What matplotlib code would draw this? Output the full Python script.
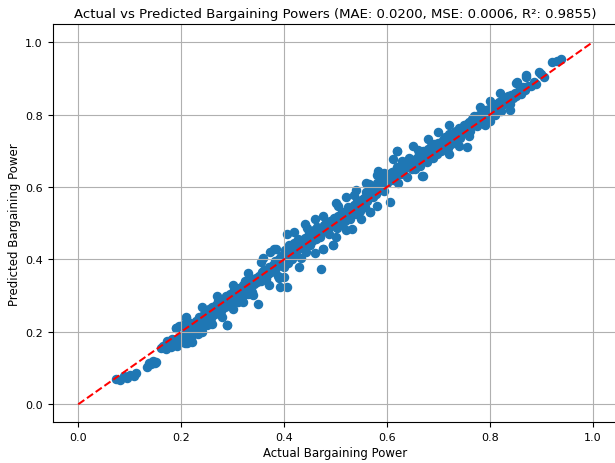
import numpy as np
import matplotlib
matplotlib.use("Agg")
import matplotlib.pyplot as plt

actual_low = [0.074, 0.082, 0.089, 0.095, 0.101, 0.108, 0.112, 0.133, 0.138, 0.142, 0.146, 0.150, 0.152]
pred_low = [0.069, 0.066, 0.077, 0.072, 0.080, 0.078, 0.086, 0.104, 0.115, 0.110, 0.120, 0.113, 0.118]

actual_b = [0.160, 0.165, 0.170, 0.172, 0.176, 0.180, 0.183, 0.186, 0.190, 0.192, 0.195, 0.198,
            0.200, 0.203, 0.205, 0.208, 0.210, 0.212, 0.214, 0.216, 0.218, 0.220, 0.222, 0.225,
            0.228, 0.230, 0.232, 0.235, 0.238, 0.240, 0.243, 0.245, 0.248, 0.250]
pred_b = [0.155, 0.160, 0.152, 0.175, 0.165, 0.158, 0.180, 0.170, 0.210, 0.162, 0.215, 0.185,
          0.175, 0.220, 0.195, 0.168, 0.240, 0.180, 0.205, 0.190, 0.225, 0.200, 0.172, 0.215,
          0.230, 0.205, 0.195, 0.240, 0.220, 0.212, 0.235, 0.250, 0.228, 0.218]

actual_c = [0.252, 0.255, 0.258, 0.260, 0.262, 0.265, 0.268, 0.270, 0.272, 0.275, 0.278, 0.280,
            0.282, 0.285, 0.288, 0.290, 0.292, 0.295, 0.298, 0.300, 0.302, 0.305, 0.308, 0.310,
            0.312, 0.315, 0.318, 0.320, 0.322, 0.325, 0.328, 0.330, 0.332, 0.335, 0.338, 0.340,
            0.342, 0.345, 0.348, 0.350]
pred_c = [0.245, 0.262, 0.238, 0.270, 0.255, 0.248, 0.275, 0.262, 0.285, 0.270, 0.258, 0.290,
          0.275, 0.268, 0.300, 0.220, 0.285, 0.305, 0.278, 0.292, 0.315, 0.288, 0.300, 0.282,
          0.320, 0.305, 0.296, 0.330, 0.312, 0.340, 0.318, 0.305, 0.335, 0.325, 0.310, 0.345,
          0.332, 0.350, 0.338, 0.276]

actual_d = [0.352, 0.355, 0.358, 0.360, 0.362, 0.365, 0.368, 0.370, 0.373, 0.375, 0.378, 0.380,
            0.382, 0.385, 0.388, 0.390, 0.392, 0.393, 0.395, 0.398, 0.400, 0.402, 0.405, 0.406,
            0.408, 0.410, 0.412, 0.415, 0.418, 0.420, 0.422, 0.425, 0.428, 0.430, 0.432, 0.435,
            0.438, 0.440, 0.442, 0.445, 0.448, 0.450]
pred_d = [0.355, 0.340, 0.365, 0.352, 0.372, 0.345, 0.360, 0.380, 0.420, 0.365, 0.385, 0.370,
          0.395, 0.375, 0.355, 0.400, 0.385, 0.323, 0.410, 0.392, 0.380, 0.425, 0.405, 0.470,
          0.390, 0.440, 0.415, 0.400, 0.430, 0.445, 0.412, 0.425, 0.455, 0.435, 0.405, 0.448,
          0.430, 0.460, 0.420, 0.452, 0.475, 0.440]

actual_e = [0.452, 0.455, 0.458, 0.460, 0.462, 0.465, 0.468, 0.470, 0.472, 0.475, 0.476, 0.478,
            0.480, 0.482, 0.485, 0.488, 0.490, 0.492, 0.495, 0.498, 0.500, 0.502, 0.505, 0.508,
            0.510, 0.512, 0.515, 0.518, 0.520, 0.522, 0.525, 0.528, 0.530, 0.532, 0.535, 0.538,
            0.540, 0.542, 0.545, 0.548, 0.550]
pred_e = [0.465, 0.450, 0.480, 0.470, 0.455, 0.490, 0.472, 0.462, 0.373, 0.485, 0.428, 0.495,
          0.478, 0.500, 0.488, 0.470, 0.505, 0.492, 0.440, 0.515, 0.500, 0.488, 0.520, 0.510,
          0.498, 0.530, 0.515, 0.505, 0.535, 0.520, 0.545, 0.512, 0.528, 0.483, 0.550, 0.538,
          0.525, 0.560, 0.548, 0.535, 0.565]

actual_f = [0.552, 0.555, 0.558, 0.560, 0.562, 0.565, 0.567, 0.570, 0.572, 0.575, 0.578, 0.580,
            0.582, 0.585, 0.588, 0.590, 0.592, 0.595, 0.598, 0.600, 0.602, 0.605, 0.608, 0.610,
            0.611, 0.612, 0.615, 0.618, 0.619, 0.620, 0.622, 0.625, 0.628, 0.630, 0.632, 0.635,
            0.638, 0.640, 0.642, 0.645, 0.648, 0.650]
pred_f = [0.555, 0.570, 0.545, 0.585, 0.562, 0.578, 0.530, 0.590, 0.572, 0.600, 0.582, 0.612,
          0.644, 0.595, 0.615, 0.605, 0.625, 0.590, 0.620, 0.610, 0.635, 0.558, 0.625, 0.640,
          0.677, 0.618, 0.645, 0.630, 0.699, 0.655, 0.612, 0.648, 0.635, 0.660, 0.645, 0.670,
          0.628, 0.655, 0.680, 0.662, 0.650, 0.675]

actual_g = [0.652, 0.655, 0.658, 0.660, 0.662, 0.665, 0.668, 0.669, 0.670, 0.672, 0.675, 0.678,
            0.680, 0.682, 0.685, 0.688, 0.690, 0.692, 0.695, 0.698, 0.700, 0.702, 0.705, 0.708,
            0.710, 0.712, 0.715, 0.718, 0.720, 0.722, 0.725, 0.728, 0.730, 0.732, 0.735, 0.738,
            0.740, 0.742, 0.745, 0.748, 0.750]
pred_g = [0.665, 0.650, 0.680, 0.672, 0.690, 0.658, 0.685, 0.630, 0.700, 0.678, 0.692, 0.668,
          0.705, 0.688, 0.712, 0.698, 0.680, 0.718, 0.705, 0.690, 0.722, 0.712, 0.700, 0.730,
          0.715, 0.738, 0.725, 0.708, 0.745, 0.732, 0.720, 0.750, 0.740, 0.728, 0.755, 0.745,
          0.762, 0.735, 0.758, 0.748, 0.770]

actual_h = [0.752, 0.755, 0.756, 0.758, 0.760, 0.762, 0.765, 0.768, 0.770, 0.772, 0.775, 0.778,
            0.780, 0.782, 0.785, 0.788, 0.790, 0.792, 0.795, 0.798, 0.800, 0.802, 0.805, 0.808,
            0.810, 0.812, 0.815, 0.818, 0.820, 0.822, 0.825, 0.828, 0.830, 0.832, 0.835, 0.838,
            0.840, 0.842, 0.845, 0.848, 0.850]
pred_h = [0.760, 0.775, 0.710, 0.765, 0.780, 0.755, 0.788, 0.772, 0.795, 0.780, 0.768, 0.800,
          0.790, 0.778, 0.808, 0.795, 0.785, 0.812, 0.802, 0.815, 0.837, 0.798, 0.820, 0.810,
          0.800, 0.828, 0.815, 0.835, 0.822, 0.810, 0.840, 0.828, 0.845, 0.832, 0.850, 0.838,
          0.828, 0.855, 0.845, 0.860, 0.850]

actual_top = [0.853, 0.855, 0.858, 0.860, 0.865, 0.868, 0.870, 0.875, 0.880, 0.885, 0.890,
              0.895, 0.900, 0.905, 0.921, 0.930, 0.938]
pred_top = [0.889, 0.862, 0.870, 0.858, 0.875, 0.868, 0.910, 0.880, 0.878, 0.890, 0.885,
            0.917, 0.912, 0.905, 0.945, 0.948, 0.953]

# puntos en los bordes de la banda (arriba y abajo de la diagonal)
actual_edge = [0.190, 0.210, 0.240, 0.270, 0.300, 0.220, 0.240, 0.260, 0.280, 0.300, 0.320, 0.340,
               0.360, 0.380, 0.420, 0.440, 0.460, 0.500, 0.520, 0.540, 0.560, 0.580,
               0.400, 0.430, 0.460, 0.500, 0.520, 0.550, 0.580, 0.370, 0.390,
               0.620, 0.650, 0.680, 0.700, 0.720, 0.670, 0.720, 0.740,
               0.780, 0.820, 0.850, 0.870, 0.800, 0.840, 0.760, 0.790,
               0.330, 0.355, 0.385, 0.445, 0.475, 0.505, 0.535, 0.565, 0.595, 0.630, 0.660]
pred_edge = [0.212, 0.238, 0.268, 0.300, 0.330, 0.182, 0.200, 0.222, 0.242, 0.262, 0.282, 0.302,
             0.405, 0.428, 0.475, 0.498, 0.512, 0.555, 0.572, 0.592, 0.612, 0.632,
             0.352, 0.380, 0.418, 0.462, 0.480, 0.512, 0.548, 0.330, 0.348,
             0.700, 0.712, 0.732, 0.752, 0.772, 0.630, 0.690, 0.712,
             0.822, 0.860, 0.888, 0.905, 0.782, 0.812, 0.742, 0.770,
             0.362, 0.392, 0.428, 0.488, 0.520, 0.548, 0.578, 0.608, 0.638, 0.672, 0.702]

# puntos sueltos fuera de la banda
actual_out = [0.406, 0.290, 0.212, 0.567, 0.495, 0.476]
pred_out = [0.323, 0.220, 0.170, 0.530, 0.440, 0.428]

y_true = np.array(actual_low + actual_b + actual_c + actual_d + actual_e + actual_f
                  + actual_g + actual_h + actual_top + actual_edge + actual_out)
y_pred = np.array(pred_low + pred_b + pred_c + pred_d + pred_e + pred_f
                  + pred_g + pred_h + pred_top + pred_edge + pred_out)

# metricas mostradas en el titulo del original
mae = 0.0200
mse = 0.0006
r2 = 0.9855

fig, ax = plt.subplots(figsize=(6.15, 4.64), dpi=100)
ax.scatter(y_true, y_pred, color='#1f77b4', s=34)
ax.plot([0, 1], [0, 1], 'r--', linewidth=1.45)
ax.set_xlabel('Actual Bargaining Power', fontsize=8.5, labelpad=3)
ax.set_ylabel('Predicted Bargaining Power', fontsize=8.5, labelpad=3)
ax.set_title(f'Actual vs Predicted Bargaining Powers (MAE: {mae:.4f}, MSE: {mse:.4f}, R²: {r2:.4f})',
             fontsize=9.5, pad=5)
ax.tick_params(labelsize=8)
ax.grid(True)
ax.set_xlim(-0.05, 1.05)
ax.set_ylim(-0.05, 1.05)

# el original esta recortado por la derecha
fig.subplots_adjust(left=52.5/615, right=618.5/615, bottom=1-423.4/464, top=1-25/464)
plt.savefig('out.png', dpi=100)
